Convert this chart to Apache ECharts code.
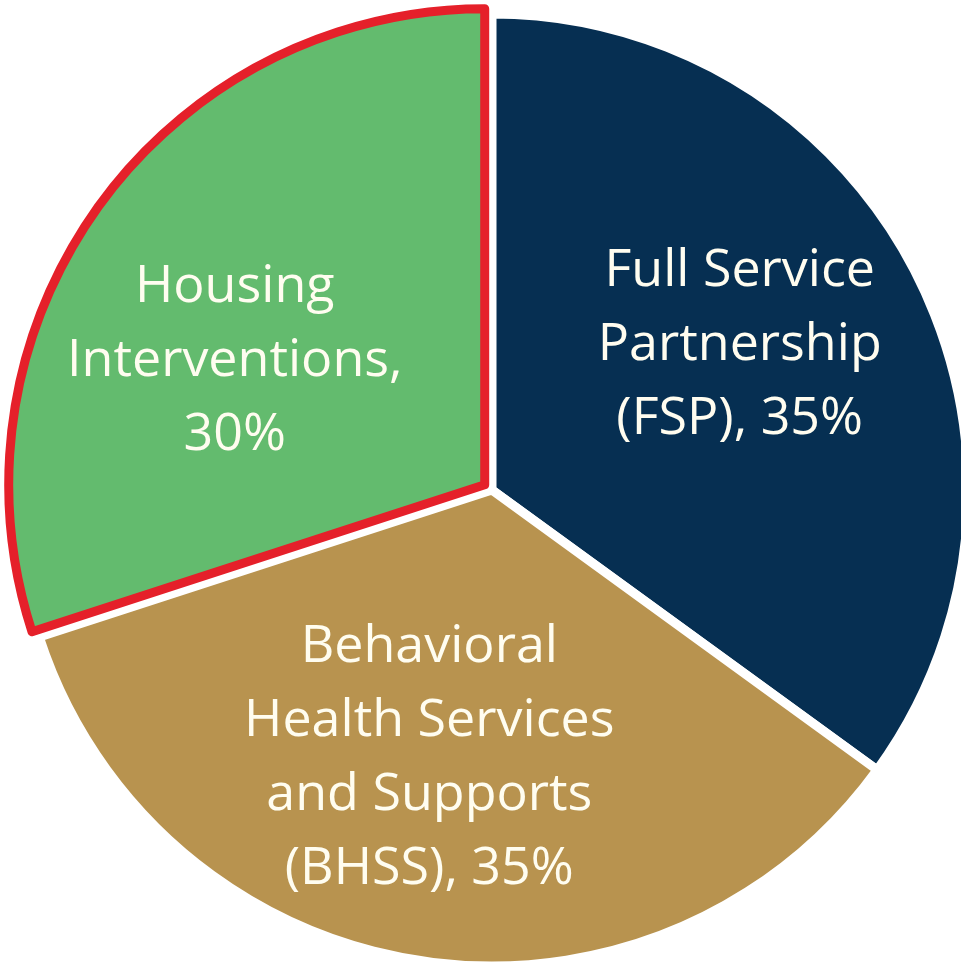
<!DOCTYPE html>
<html>
<head>
<meta charset="utf-8">
<script src="https://cdn.jsdelivr.net/npm/echarts@6/dist/echarts.min.js"></script>
<style>
  html, body { margin: 0; padding: 0; background: #fff; }
  #chart { width: 961px; height: 973px; }
</style>
</head>
<body>
<div id="chart"></div>
<script>
// slice names and shares (%)
const categories = [
  'Full Service\nPartnership\n(FSP), 35%',
  'Behavioral\nHealth Services\nand Supports\n(BHSS), 35%',
  'Housing\nInterventions,\n30%'
]
const values = [35, 35, 30]
const colors = ['#062f52', '#b8934f', '#63bb6e']

// nudges for the labels so they sit where the original puts them
const labelShift = [[33, -35], [-25, 30], [-55, 18]]

const chart = echarts.init(document.getElementById('chart'))

const option = {
  animation: false,
  series: [
    {
      type: 'pie',
      center: [492, 490],
      radius: 476,
      startAngle: 90,
      clockwise: true,
      selectedMode: 'single',
      selectedOffset: 9,
      emphasis: { disabled: true },
      itemStyle: {
        borderColor: '#ffffff',
        borderWidth: 9
      },
      label: {
        show: true,
        position: 'inside',
        formatter: '{b}',
        color: '#fffdf0',
        fontFamily: 'Open Sans',
        fontSize: 52,
        lineHeight: 74,
        align: 'center'
      },
      labelLine: { show: false },
      labelLayout: function (params) {
        const s = labelShift[params.dataIndex]
        return { dx: s[0], dy: s[1] }
      },
      data: categories.map(function (name, i) {
        const item = {
          name: name,
          value: values[i],
          itemStyle: { color: colors[i] }
        }
        if (i === 2) {
          item.selected = true
          item.itemStyle.borderColor = '#e5202a'
          item.itemStyle.borderWidth = 9
        }
        return item
      })
    }
  ]
}

chart.setOption(option)
</script>
</body>
</html>
